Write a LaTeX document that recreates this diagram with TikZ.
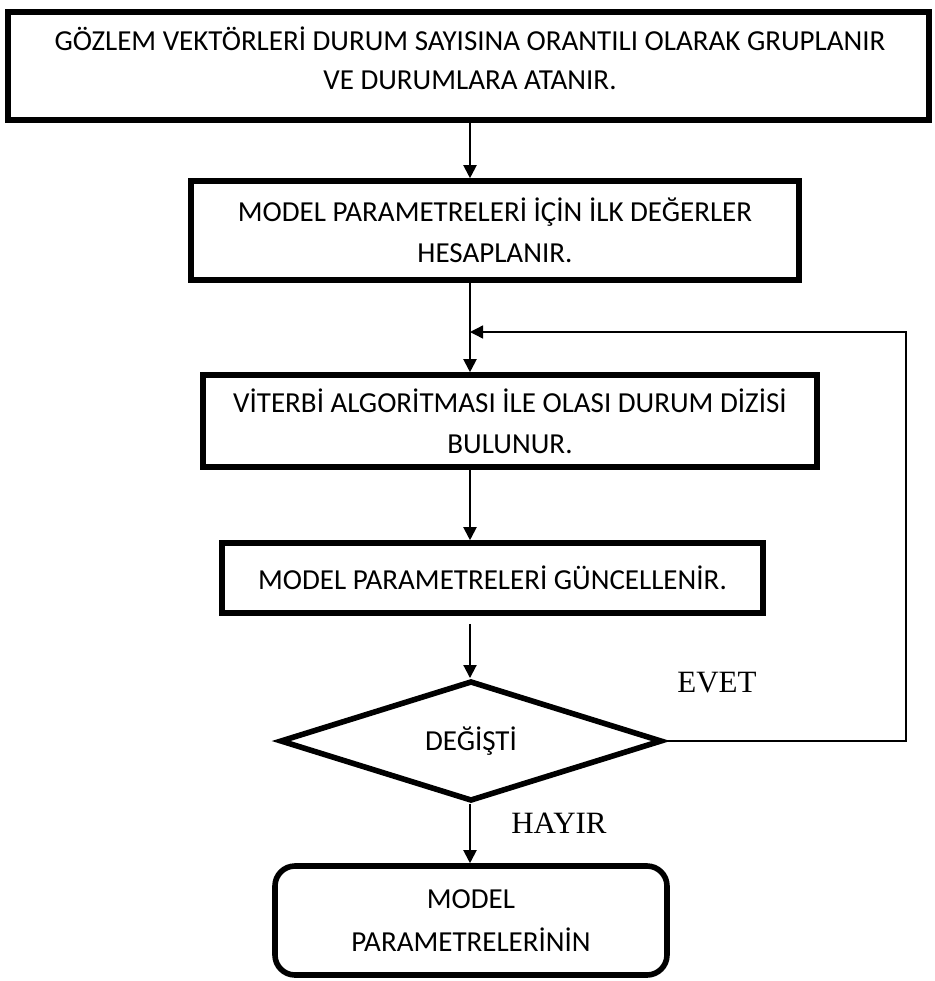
\documentclass[tikz,border=0pt]{standalone}
\usepackage{fontspec}
\setmainfont{Carlito}
\newfontfamily\timesfont{Liberation Serif}
\usetikzlibrary{shapes.geometric,arrows.meta}

\begin{document}
\begin{tikzpicture}[x=0.5pt, y=-0.5pt, line width=1pt,
	kutu/.style={draw, line width=2.8pt, inner sep=0pt, align=center, font=\fontsize{14.5}{20.5}\selectfont},
	karar/.style={draw, diamond, line width=2.8pt, inner sep=0pt, font=\fontsize{14.5}{20.5}\selectfont},
	ok/.style={-{Triangle[length=6.5pt,width=6.5pt]}},
	etiket/.style={font=\timesfont\fontsize{15.5}{18}\selectfont}]
			\useasboundingbox (0,0) rectangle (934,981);
			\coordinate (col) at (470,0);
			\coordinate (don) at (906,332);
			% kutular
			\node[kutu, line width=3pt, minimum width=460.5pt, minimum height=54pt] (grup) at (468.5,66) {};
			\node[align=center, font=\fontsize{14.5}{19.5}\selectfont] (gruptxt) at (470,58) {GÖZLEM VEKTÖRLERİ DURUM SAYISINA ORANTILI OLARAK GRUPLANIR\\VE DURUMLARA ATANIR.};
			\node[kutu, minimum width=304pt, minimum height=49.5pt] (ilk) at (495,230.5) {MODEL PARAMETRELERİ İÇİN İLK DEĞERLER\\HESAPLANIR.};
			\node[kutu, minimum width=307pt, minimum height=46pt] (viterbi) at (510,421) {VİTERBİ ALGORİTMASI İLE OLASI DURUM DİZİSİ\\BULUNUR.};
			\node[kutu, minimum width=270.5pt, minimum height=35pt] (guncel) at (492.5,578) {MODEL PARAMETRELERİ GÜNCELLENİR.};
			\node[karar, minimum width=191pt, minimum height=51pt] (degisti) at (471,741) {DEĞİŞTİ};
			\node[kutu, rounded corners=10pt, minimum width=196pt, minimum height=54.5pt, font=\fontsize{14.5}{21.5}\selectfont] (sonuc) at (471,920.5) {MODEL\\PARAMETRELERİNİN};
			% oklar
			\draw[ok] (col |- grup.south) -- (col |- ilk.north);
			\draw[ok] (col |- ilk.south) -- (col |- viterbi.north);
			\draw[ok] (col |- viterbi.south) -- (col |- guncel.north);
			\draw[ok, shorten <=4pt] (col |- guncel.south) -- (col |- degisti.north);
			\draw[ok] (col |- degisti.south) -- (col |- sonuc.north);
			\draw[ok, line width=0.7pt] (degisti.east) -| (don) -- (col |- don);
			\node[etiket] (evet) at (717,683) {EVET};
			\node[etiket] (hayir) at (559,823) {HAYIR};
			\end{tikzpicture}
\end{document}
